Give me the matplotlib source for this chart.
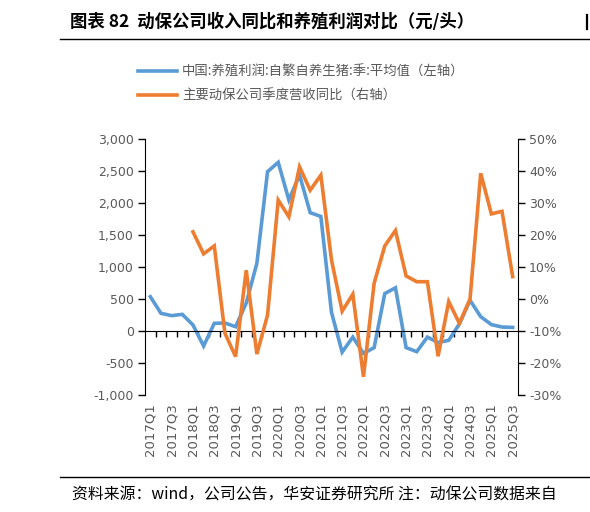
import numpy as np
import matplotlib
matplotlib.use("Agg")
import matplotlib.pyplot as plt
from matplotlib.lines import Line2D
from matplotlib.ticker import FuncFormatter, MultipleLocator, FixedLocator

plt.rcParams['font.family'] = ['Noto Sans CJK SC', 'DejaVu Sans']

# quarters 2017Q1 .. 2025Q3
quarters = [f"{y}Q{q}" for y in range(2017, 2026) for q in range(1, 5)][:35]

# 中国:养殖利润:自繁自养生猪:季:平均值 (元/头, 左轴)
profit = [536, 276, 240, 260, 94, -234, 120, 125, 67, 437, 1060, 2490, 2635, 2047,
          2437, 1849, 1790, 290, -330, -95, -350, -260, 585, 675, -260, -323, -95,
          -180, -145, 110, 480, 224, 100, 62, 56]

# 主要动保公司季度营收同比 (%, 右轴), starts 2018Q1
revenue_yoy = [np.nan] * 4 + [21.0, 14.1, 16.6, -10.7, -18.0, 9.0, -17.2, -5.0, 30.9,
                              25.7, 41.3, 34.0, 38.7, 12.2, -3.8, 1.5, -24.3, 4.9, 16.6,
                              21.4, 7.2, 5.4, 5.4, -17.9, -0.8, -7.6, 0.0, 39.3, 26.6,
                              27.4, 7.0]

blue = '#5B9BD5'
orange = '#ED7D31'
grey = '#595959'

W, H = 590, 512
fig = plt.figure(figsize=(W / 100, H / 100), dpi=100)
ax = fig.add_axes([145 / W, 1 - 395 / H, (518 - 145) / W, 256 / H])
ax2 = ax.twinx()

x = np.arange(len(quarters))
l1, = ax.plot(x, profit, color=blue, lw=2.6, solid_joinstyle='miter')
l2, = ax2.plot(x, np.array(revenue_yoy) / 100, color=orange, lw=2.6, solid_joinstyle='miter')

ax.set_xlim(-0.5, len(quarters) - 0.5)
ax.set_ylim(-1000, 3000)
ax2.set_ylim(-0.3, 0.5)
ax.yaxis.set_major_locator(MultipleLocator(500))
ax2.yaxis.set_major_locator(MultipleLocator(0.1))
ax.yaxis.set_major_formatter(FuncFormatter(lambda v, p: f"{v:,.0f}"))
ax2.yaxis.set_major_formatter(FuncFormatter(lambda v, p: f"{v * 100:.0f}%"))

for a in (ax, ax2):
    a.spines['top'].set_visible(False)
    a.tick_params(axis='y', direction='out', length=5, width=1, colors='black',
                  labelcolor=grey, labelsize=9, pad=3)
ax.spines['right'].set_visible(False)
ax2.spines['left'].set_visible(False)
ax2.spines['bottom'].set_visible(False)
ax.spines['left'].set_color('black')
ax2.spines['right'].set_color('black')
for lab in ax.get_yticklabels() + ax2.get_yticklabels():
    lab.set_family('DejaVu Sans')

# x axis sits on the zero line, ticks between categories
ax.spines['bottom'].set_position(('data', 0))
ax.xaxis.set_major_locator(FixedLocator(x[::2]))
ax.set_xticklabels(quarters[::2], rotation=90, family='DejaVu Sans')
ax.xaxis.set_minor_locator(FixedLocator(x[:-1] + 0.5))
ax.tick_params(axis='x', which='major', length=0, pad=52, labelsize=9.5, labelcolor=grey)
ax.tick_params(axis='x', which='minor', length=4, width=1, direction='out', color='black')
for lab in ax.get_xticklabels():
    lab.set_verticalalignment('top')

fig.legend([l1, l2], ['中国:养殖利润:自繁自养生猪:季:平均值（左轴）', '主要动保公司季度营收同比（右轴）'],
           loc='upper left', bbox_to_anchor=(126 / W, 1 - 53 / H), frameon=False,
           fontsize=9.6, handlelength=2.9, handletextpad=0.4, labelspacing=0.75,
           labelcolor=grey)

fig.text(70 / W, 1 - 22 / H, '图表 82  动保公司收入同比和养殖利润对比（元/头）',
         fontsize=12.5, fontweight='bold', va='center', ha='left')
# edge of the neighbouring panel's title
fig.add_artist(Line2D([587 / W] * 2, [1 - 15 / H, 1 - 29 / H], color='black', lw=1.6))
fig.add_artist(Line2D([60 / W, 1], [1 - 39 / H] * 2, color='black', lw=1))
fig.add_artist(Line2D([60 / W, 1], [1 - 477 / H] * 2, color='black', lw=1))
fig.text(72 / W, 1 - 495 / H, '资料来源：wind，公司公告，华安证券研究所 注：动保公司数据来自',
         fontsize=11.4, va='center', ha='left')

fig.savefig('out.png', dpi=100)
